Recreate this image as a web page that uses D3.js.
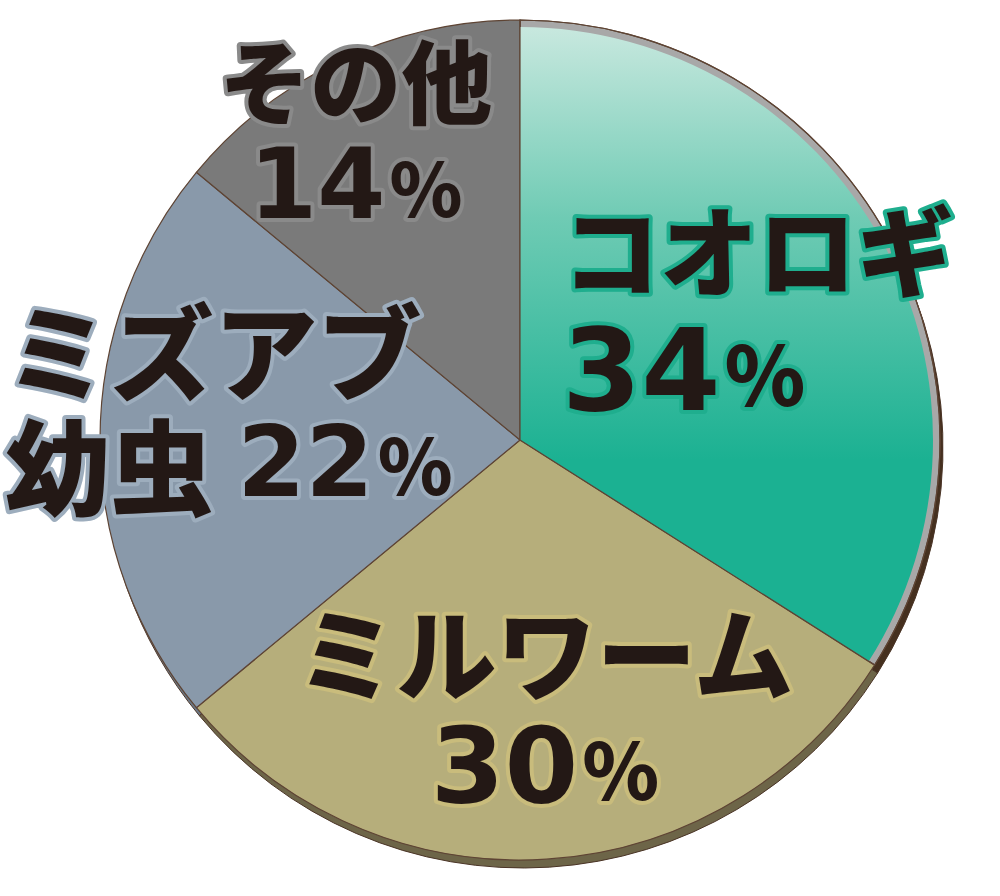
<!DOCTYPE html>
<html>
<head>
<meta charset="utf-8">
<script src="https://cdn.jsdelivr.net/npm/d3@7"></script>
<style>
  html, body { margin: 0; padding: 0; background: #fff; }
  text { font-family: "Noto Sans CJK JP", "Noto Sans", sans-serif; font-weight: 900; fill: #231815; }
  .num { font-family: "DejaVu Sans", sans-serif; font-weight: bold; }
</style>
</head>
<body>
<div id="chart"></div>
<script>
// data
var categories = ["コオロギ", "ミルワーム", "ミズアブ幼虫", "その他"];
var shares = [34, 30, 22, 14];

var width = 1000
var height = 896
var cx = 520, cy = 440, radius = 420

var fills = ["#1bb192", "#b6ae7b", "#8999aa", "#7a7a7a"];
var sides = ["#45301f", "#6d6548", "#6b7785", "#5c5c5c"];
var halos = ["#1fae8e", "#c9bc7c", "#9dadbd", "#8a8a8a"];

// label layout: radius fraction of centroid, anchor, offsets from centroid, font sizes
var labelLayout = {
	"コオロギ": { frac: 0.66, anchor: "start", dx: -201, name: 98, num: 114, pct: 82,
		lines: [{ t: "コオロギ", dy: -60 }, { p: true, dy: 64 }] },
	"ミルワーム": { frac: 0.64, anchor: "middle", dx: 8, name: 100, num: 106, pct: 78,
		lines: [{ t: "ミルワーム", dy: -59 }, { p: true, dy: 58 }] },
	"ミズアブ幼虫": { frac: 0.68, anchor: "start", dx: -229, name: 104, num: 98, pct: 76,
		lines: [{ t: "ミズアブ", dy: -93 }, { t: "幼虫 ", p: true, dy: 22 }] },
	"その他": { frac: 0.84, anchor: "middle", dx: -14, name: 91, num: 98, pct: 74,
		lines: [{ t: "その他", dy: -44 }, { p: true, dy: 63 }] }
};

var svg = d3.select("#chart")
	.append("svg")
	.attr("width", width)
	.attr("height", height);

var defs = svg.append("defs");
var grad = defs.append("linearGradient")
	.attr("id", "tealGrad")
	.attr("gradientUnits", "userSpaceOnUse")
	.attr("x1", 0).attr("y1", -radius)
	.attr("x2", 0).attr("y2", 20);
grad.append("stop").attr("offset", "0%").attr("stop-color", "#cbe9e0");
grad.append("stop").attr("offset", "45%").attr("stop-color", "#6fcbb4");
grad.append("stop").attr("offset", "100%").attr("stop-color", "#1bb192");

var pie = d3.pie().sort(null).value(function (d) { return d; });
var arcs = pie(shares);

var arc = d3.arc().innerRadius(0).outerRadius(radius);
var innerArc = d3.arc().innerRadius(0).outerRadius(radius - 7);

var g = svg.append("g")
	.attr("transform", "translate(" + cx + "," + cy + ")");

// 3D side (thickness) drawn below the top
g.append("g")
	.attr("transform", "translate(3,8)")
	.selectAll("path")
	.data(arcs)
	.enter()
	.append("path")
	.attr("d", arc)
	.attr("fill", function (d, i) { return sides[i]; })
	.attr("stroke", "#4a3426")
	.attr("stroke-width", 1);

// top slices
g.selectAll("path.slice")
	.data(arcs)
	.enter()
	.append("path")
	.attr("class", "slice")
	.attr("d", arc)
	.attr("fill", function (d, i) { return i == 0 ? "#a8a8a8" : fills[i]; })
	.attr("stroke", "#5e4434")
	.attr("stroke-width", 1.2);

// gradient face of the first slice, slightly inset
g.append("path")
	.attr("d", innerArc(arcs[0]))
	.attr("fill", "url(#tealGrad)");

g.append("path")
	.attr("d", arc(arcs[0]))
	.attr("fill", "none")
	.attr("stroke", "#5e4434")
	.attr("stroke-width", 1.2);

// labels
arcs.forEach(function (d, i) {
	var name = categories[i];
	var lay = labelLayout[name];
	var c = d3.arc().innerRadius(radius * lay.frac).outerRadius(radius * lay.frac).centroid(d);
	lay.lines.forEach(function (ln) {
		var txt = g.append("text")
			.attr("x", c[0] + lay.dx)
			.attr("y", c[1] + ln.dy)
			.attr("text-anchor", lay.anchor)
			.attr("dominant-baseline", "central")
			.attr("stroke", halos[i])
			.attr("stroke-width", 8)
			.attr("stroke-linejoin", "round")
			.attr("paint-order", "stroke");
		if (ln.t) {
			txt.append("tspan").attr("font-size", lay.name).text(ln.t);
		}
		if (ln.p) {
			txt.append("tspan").attr("class", "num").attr("font-size", lay.num).text(shares[i]);
			txt.append("tspan").attr("font-size", lay.pct).attr("dx", 4).text("%");
		}
	});
});
</script>
</body>
</html>
